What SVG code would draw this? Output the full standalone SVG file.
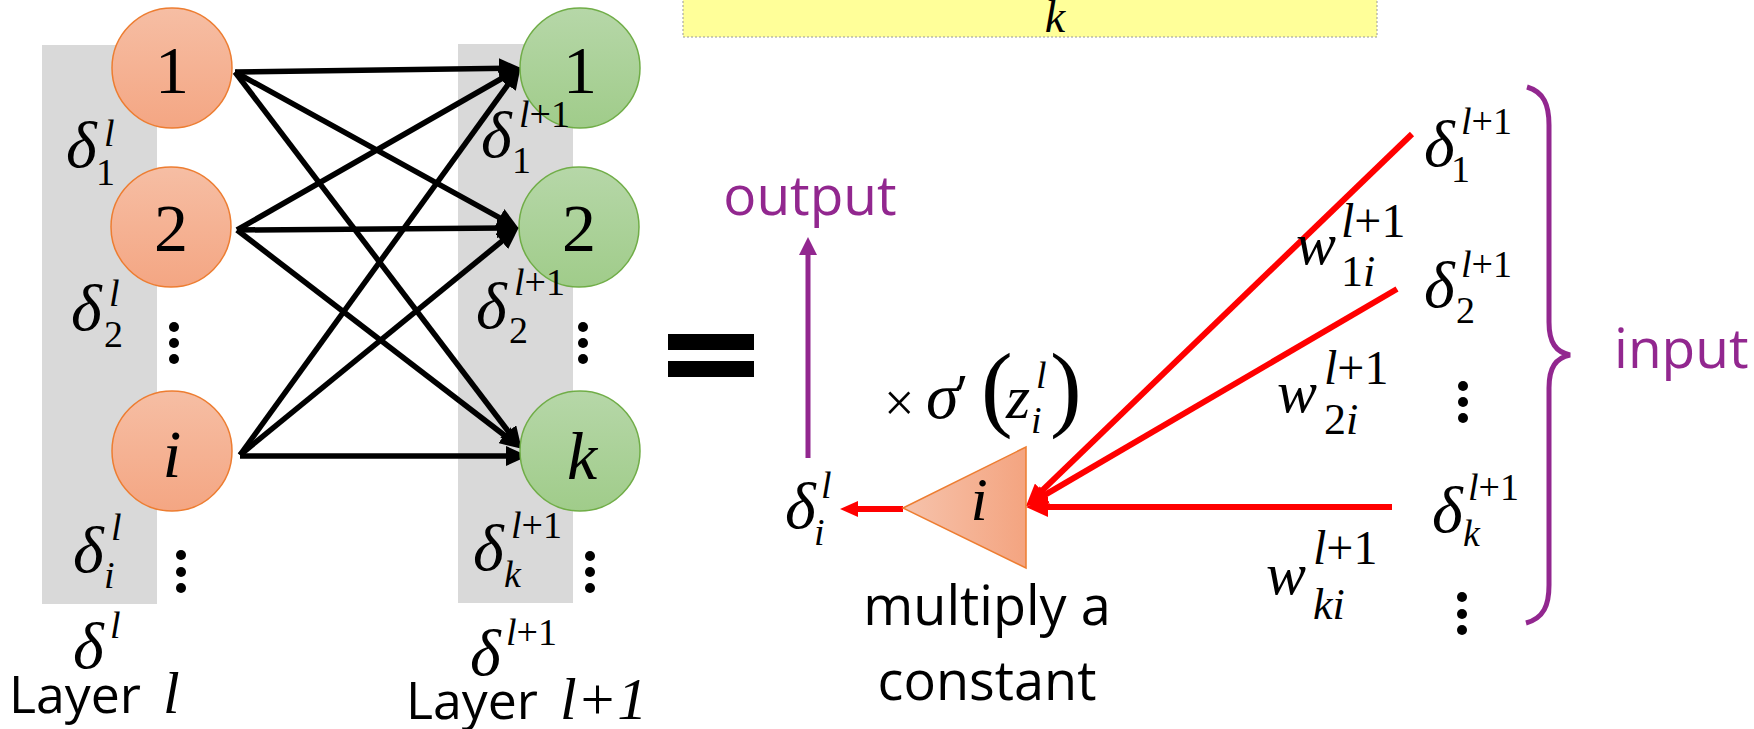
<svg xmlns="http://www.w3.org/2000/svg" width="1754" height="729" viewBox="0 0 1754 729">
<defs>
<linearGradient id="gOr" x1="0" y1="0" x2="0" y2="1"><stop offset="0" stop-color="#F6BEA4"/><stop offset="1" stop-color="#F4A683"/></linearGradient>
<linearGradient id="gGr" x1="0" y1="0" x2="0" y2="1"><stop offset="0" stop-color="#B6D7A8"/><stop offset="1" stop-color="#A0CC8A"/></linearGradient>
<linearGradient id="gTri" x1="0" y1="0" x2="1" y2="0"><stop offset="0" stop-color="#F6C3AC"/><stop offset="1" stop-color="#F4A480"/></linearGradient>
<marker id="mBlk" markerUnits="userSpaceOnUse" markerWidth="22" markerHeight="20" refX="7" refY="10" orient="auto"><path d="M0,0 L22,10 L0,20 z" fill="#000"/></marker>
<marker id="mRed" markerUnits="userSpaceOnUse" markerWidth="22" markerHeight="20" refX="8" refY="10" orient="auto"><path d="M0,0 L22,10 L0,20 z" fill="#FF0000"/></marker>
<marker id="mRedS" markerUnits="userSpaceOnUse" markerWidth="18" markerHeight="16" refX="7" refY="8" orient="auto"><path d="M0,0 L18,8 L0,16 z" fill="#FF0000"/></marker>
<marker id="mPur" markerUnits="userSpaceOnUse" markerWidth="18" markerHeight="18" refX="6" refY="9" orient="auto"><path d="M0,0 L18,9 L0,18 z" fill="#92278F"/></marker>
<style>
.gray{fill:#D9D9D9}
.or{fill:url(#gOr);stroke:#ED7D31;stroke-width:1.5}
.gr{fill:url(#gGr);stroke:#70AD47;stroke-width:1.5}
.num{font-family:"Liberation Serif",serif;font-size:68px;fill:#000;text-anchor:middle}
.it{font-style:italic}
.m{font-family:"Liberation Serif",serif;font-size:66px;font-style:italic;fill:#000}
.s{font-family:"Liberation Serif",serif;font-size:38px;fill:#000}
.w{font-family:"Liberation Serif",serif;font-size:60px;font-style:italic;fill:#000}
.ws{font-family:"Liberation Serif",serif;font-size:48px;fill:#000}
.wb{font-family:"Liberation Serif",serif;font-size:44px;fill:#000}
.sans{font-family:"Open Sans","Liberation Sans",sans-serif;fill:#000}
.pur{fill:#92278F}
.blk{stroke:#000;stroke-width:5.5;fill:none;marker-end:url(#mBlk)}
.red{stroke:#FF0000;stroke-width:6;fill:none;marker-end:url(#mRed)}
.dot{fill:#000}
</style>
</defs>
<rect x="0" y="0" width="1754" height="729" fill="#fff"/>

<g id="yellow-box">
<rect x="683" y="-5" width="694" height="42" fill="#FFFF99" stroke="#999" stroke-width="1" stroke-dasharray="2,2"/>
<text x="1055" y="32" class="w" style="font-size:46px" text-anchor="middle">k</text>
</g>

<g id="layer-l-band"><rect class="gray" x="42" y="45" width="115" height="559"/></g>
<g id="layer-l1-band"><rect class="gray" x="458" y="44" width="115" height="559"/></g>

<g id="connectors">
<line class="blk" x1="235" y1="72" x2="506" y2="68.2"/>
<line class="blk" x1="235" y1="72" x2="505.7" y2="221.2"/>
<line class="blk" x1="235" y1="72" x2="512.5" y2="436.9"/>
<line class="blk" x1="237" y1="230" x2="507.8" y2="75"/>
<line class="blk" x1="237" y1="230" x2="504" y2="228.1"/>
<line class="blk" x1="237" y1="230" x2="509.9" y2="439.5"/>
<line class="blk" x1="240" y1="455" x2="511.8" y2="79.3"/>
<line class="blk" x1="240" y1="455" x2="507.2" y2="236.9"/>
<line class="blk" x1="240" y1="456" x2="513" y2="456"/>
<line class="red" x1="1412" y1="134" x2="1036.1" y2="496.3"/>
<line class="red" x1="1397" y1="289" x2="1038.1" y2="498.9"/>
<line class="red" x1="1392" y1="507" x2="1040" y2="507"/>
<line x1="903" y1="509" x2="851" y2="509" stroke="#FF0000" stroke-width="6" marker-end="url(#mRedS)"/>
<line x1="808" y1="458" x2="808" y2="249" stroke="#92278F" stroke-width="5" marker-end="url(#mPur)"/>
</g>

<g id="node-l1">
<circle class="or" cx="172" cy="68" r="60"/>
<text class="num" x="172" y="93">1</text>
</g>
<g id="node-l2">
<circle class="or" cx="171" cy="227" r="60"/>
<text class="num" x="171" y="251">2</text>
</g>
<g id="node-li">
<circle class="or" cx="172" cy="451" r="60"/>
<text class="num it" x="172" y="477">i</text>
</g>
<g id="node-r1">
<circle class="gr" cx="580" cy="68" r="60"/>
<text class="num" x="580" y="93">1</text>
</g>
<g id="node-r2">
<circle class="gr" cx="579" cy="227" r="60"/>
<text class="num" x="579" y="251">2</text>
</g>
<g id="node-rk">
<circle class="gr" cx="580" cy="451" r="60"/>
<text class="num it" x="582" y="479">k</text>
</g>

<g id="labels-left">
<text class="m" x="66" y="167">δ</text><text class="s it" x="104" y="146">l</text><text class="s" x="96" y="185">1</text>
<text class="m" x="71" y="330">δ</text><text class="s it" x="109" y="306">l</text><text class="s" x="104" y="347">2</text>
<text class="m" x="73" y="572">δ</text><text class="s it" x="111" y="540">l</text><text class="s it" x="104" y="588">i</text>
<text class="m" x="73" y="668">δ</text><text class="s it" x="110" y="638">l</text>
<text class="sans" x="9" y="713" style="font-size:52px" textLength="132" lengthAdjust="spacingAndGlyphs">Layer</text>
<text class="m" x="163" y="713" style="font-size:60px">l</text>
</g>
<g id="labels-right">
<text class="m" x="481" y="157">δ</text><text class="s" x="519" y="127"><tspan class="it">l</tspan>+1</text><text class="s" x="512" y="173">1</text>
<text class="m" x="476" y="328">δ</text><text class="s" x="514" y="295"><tspan class="it">l</tspan>+1</text><text class="s" x="509" y="343">2</text>
<text class="m" x="473" y="570">δ</text><text class="s" x="511" y="538"><tspan class="it">l</tspan>+1</text><text class="s it" x="504" y="587">k</text>
<text class="m" x="470" y="675">δ</text><text class="s" x="506" y="645"><tspan class="it">l</tspan>+1</text>
<text class="sans" x="406" y="719" style="font-size:52px" textLength="132" lengthAdjust="spacingAndGlyphs">Layer</text>
<text class="m" x="560" y="719" style="font-size:60px">l+1</text>
</g>
<g id="dots">
<circle class="dot" cx="174" cy="327" r="5"/><circle class="dot" cx="174" cy="343" r="5"/><circle class="dot" cx="174" cy="359" r="5"/>
<circle class="dot" cx="181" cy="555" r="5"/><circle class="dot" cx="181" cy="572" r="5"/><circle class="dot" cx="181" cy="588" r="5"/>
<circle class="dot" cx="583" cy="327" r="5"/><circle class="dot" cx="583" cy="343" r="5"/><circle class="dot" cx="583" cy="359" r="5"/>
<circle class="dot" cx="590" cy="556" r="5"/><circle class="dot" cx="590" cy="572" r="5"/><circle class="dot" cx="590" cy="588" r="5"/>
<circle class="dot" cx="1463" cy="386" r="5"/><circle class="dot" cx="1463" cy="402" r="5"/><circle class="dot" cx="1463" cy="418" r="5"/>
<circle class="dot" cx="1462" cy="597" r="5"/><circle class="dot" cx="1462" cy="614" r="5"/><circle class="dot" cx="1462" cy="630" r="5"/>
</g>

<g id="equals">
<rect x="668" y="334" width="86" height="16" fill="#000"/>
<rect x="668" y="361" width="86" height="16" fill="#000"/>
</g>

<g id="output-label"><text class="sans pur" x="810" y="215" text-anchor="middle" style="font-size:55px">output</text></g>

<g id="neuron-i">
<polygon points="903,508 1026,447 1026,568" fill="url(#gTri)" stroke="#ED7D31" stroke-width="1.5"/>
<text class="m" x="979" y="520" text-anchor="middle" style="font-size:62px">i</text>
</g>
<g id="delta-i">
<text class="m" x="785" y="528">δ</text><text class="s it" x="821" y="498">l</text><text class="s it" x="814" y="545">i</text>
</g>
<g id="sigma-label">
<text x="884" y="421" style="font-family:'Liberation Serif',serif;font-size:54px">×</text>
<text class="m" x="926" y="418" style="font-size:66px">σ</text>
<text x="956" y="414" style="font-family:'Liberation Serif',serif;font-size:56px">′</text>
<text x="981" y="419" style="font-family:'Liberation Serif',serif;font-size:95px">(</text>
<text class="m" x="1006" y="418" style="font-size:62px">z</text>
<text class="s it" x="1036" y="388">l</text>
<text class="s it" x="1031" y="433">i</text>
<text x="1050" y="419" style="font-family:'Liberation Serif',serif;font-size:95px">)</text>
</g>
<g id="multiply-label">
<text class="sans" x="987" y="625" text-anchor="middle" style="font-size:54px">multiply a</text>
<text class="sans" x="987" y="700" text-anchor="middle" style="font-size:54px">constant</text>
</g>

<g id="inputs">
<text class="m" x="1424" y="166">δ</text><text class="s" x="1461" y="134"><tspan class="it">l</tspan>+1</text><text class="s" x="1451" y="182">1</text>
<text class="m" x="1424" y="307">δ</text><text class="s" x="1461" y="277"><tspan class="it">l</tspan>+1</text><text class="s" x="1456" y="323">2</text>
<text class="m" x="1432" y="532">δ</text><text class="s" x="1468" y="500"><tspan class="it">l</tspan>+1</text><text class="s it" x="1463" y="546">k</text>
<text class="w" x="1296" y="264">w</text><text class="ws" x="1341" y="237"><tspan class="it">l</tspan>+1</text><text class="wb" x="1341" y="286">1<tspan class="it">i</tspan></text>
<text class="w" x="1277" y="412">w</text><text class="ws" x="1324" y="384"><tspan class="it">l</tspan>+1</text><text class="wb" x="1324" y="434">2<tspan class="it">i</tspan></text>
<text class="w" x="1266" y="594">w</text><text class="ws" x="1313" y="564"><tspan class="it">l</tspan>+1</text><text class="wb it" x="1313" y="619">ki</text>
</g>

<g id="input-brace">
<path d="M1527,87 C1544,92 1549,105 1549,125 L1549,322 C1549,343 1556,352 1570,355 C1556,358 1549,367 1549,388 L1549,585 C1549,605 1544,618 1526,623" fill="none" stroke="#92278F" stroke-width="5"/>
<text class="sans pur" x="1614" y="368" style="font-size:55px">input</text>
</g>
</svg>
